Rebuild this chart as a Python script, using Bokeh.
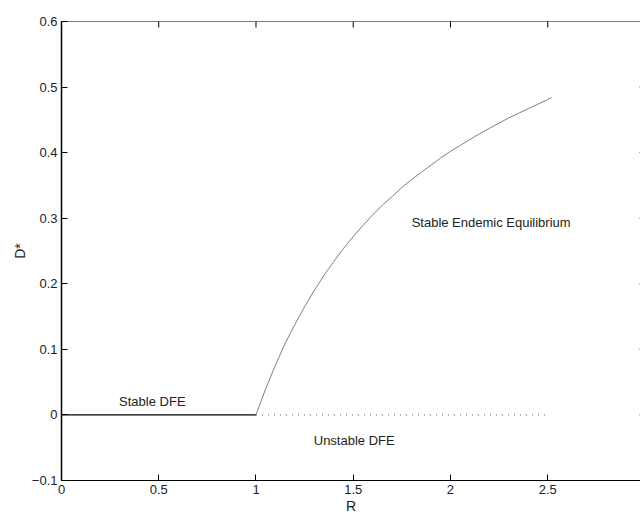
import math

from bokeh.plotting import figure
from bokeh.models import FixedTicker, LinearAxis, Label, Range1d, Span
from bokeh.embed import file_html
from bokeh.resources import INLINE

# Disease-free equilibrium branches (D* = 0)
stable_dfe_r = [0.0, 1.0]
stable_dfe_d = [0.0, 0.0]
unstable_dfe_r = [1.0, 2.5]
unstable_dfe_d = [0.0, 0.0]

# Endemic equilibrium branch, D* against R
endemic_r = [1.00, 1.05, 1.10, 1.15, 1.20, 1.25, 1.30, 1.35, 1.40, 1.45,
             1.50, 1.55, 1.60, 1.65, 1.70, 1.75, 1.80, 1.85, 1.90, 1.95,
             2.00, 2.05, 2.10, 2.15, 2.20, 2.25, 2.30, 2.35, 2.40, 2.45,
             2.50, 2.52]
endemic_d = [0.000, 0.040, 0.076, 0.109, 0.138, 0.165, 0.190, 0.213, 0.234, 0.254,
             0.272, 0.289, 0.305, 0.320, 0.333, 0.347, 0.359, 0.370, 0.381, 0.392,
             0.402, 0.411, 0.420, 0.429, 0.437, 0.445, 0.453, 0.460, 0.467, 0.474,
             0.481, 0.484]

x_ticks = [0, 0.5, 1, 1.5, 2, 2.5]
x_tick_labels = ["0", "0.5", "1", "1.5", "2", "2.5"]
y_ticks = [-0.1, 0, 0.1, 0.2, 0.3, 0.4, 0.5, 0.6]
y_tick_labels = ["\u22120.1", "0", "0.1", "0.2", "0.3", "0.4", "0.5", "0.6"]

x_min, x_max = 0.0, 2.977
y_min, y_max = -0.1, 0.6

FONT = "Liberation Sans"
TXT = "#222222"

p = figure(width=640, height=516, output_backend="svg", toolbar_location=None,
           x_range=Range1d(x_min, x_max), y_range=Range1d(y_min, y_max),
           x_axis_location=None, y_axis_location=None,
           min_border_left=61, min_border_right=0, min_border_top=21, min_border_bottom=35)
p.xgrid.visible = False
p.ygrid.visible = False
p.outline_line_color = None
p.background_fill_color = "white"
p.border_fill_color = "white"


def style_axis(ax, ticks, labels, line_width=1.0):
    ax.ticker = FixedTicker(ticks=ticks)
    ax.major_tick_in = 6
    ax.major_tick_out = 0
    ax.minor_tick_line_color = None
    ax.axis_line_color = "black"
    ax.axis_line_width = line_width
    ax.major_tick_line_color = "black"
    ax.major_label_overrides = dict(zip(ticks, labels))
    ax.major_label_text_font = FONT
    ax.major_label_text_font_size = "13px"
    ax.major_label_text_color = TXT
    ax.major_label_standoff = 4
    ax.axis_label_text_font = FONT
    ax.axis_label_text_font_size = "14px"
    ax.axis_label_text_font_style = "normal"
    ax.axis_label_text_color = TXT
    ax.axis_label_standoff = 1


bottom = LinearAxis(axis_label="R")
style_axis(bottom, x_ticks, x_tick_labels)
p.add_layout(bottom, "below")

left = LinearAxis(axis_label="D*")
style_axis(left, y_ticks, y_tick_labels, line_width=1.5)
p.add_layout(left, "left")

# box line along the top, with inward ticks on the top and right edges
p.add_layout(Span(location=y_max, dimension="width", line_color="black", line_width=1))
p.scatter(x_ticks, [y_max] * len(x_ticks), marker="dash", angle=math.pi / 2,
          size=12, line_color="black", line_width=1)
p.scatter([x_max] * len(y_ticks), y_ticks, marker="dash",
          size=2, line_color="#444444", line_width=1)

p.line(stable_dfe_r, stable_dfe_d, line_color="black", line_width=1.3)
p.line(unstable_dfe_r, unstable_dfe_d, line_color="#555555", line_width=1, line_dash="1 5")
p.line(endemic_r, endemic_d, line_color="#808080", line_width=1)

for txt, x, y in [("Stable DFE", 0.467, 0.0209),
                  ("Unstable DFE", 1.505, -0.0385),
                  ("Stable Endemic Equilibrium", 2.209, 0.2928)]:
    p.add_layout(Label(x=x, y=y, text=txt, text_font=FONT, text_font_size="13px",
                       text_color=TXT, text_align="center", text_baseline="alphabetic"))

open("out.html", "w").write(file_html(p, INLINE))
